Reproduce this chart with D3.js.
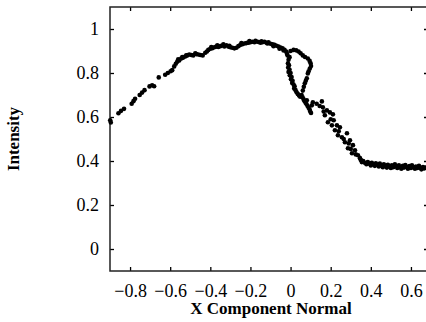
<!DOCTYPE html>
<html>
<head>
<meta charset="utf-8">
<script src="https://cdn.jsdelivr.net/npm/d3@7"></script>
<style>
  body { margin: 0; background: #fff; }
  text { font-family: 'Liberation Serif', 'Times New Roman', serif; fill: #000; }
</style>
</head>
<body>
<div id="chart"></div>
<script>
const xTicks = [-0.8, -0.6, -0.4, -0.2, 0, 0.2, 0.4, 0.6];
const yTicks = [0, 0.2, 0.4, 0.6, 0.8, 1];

// rising part up to the peak
const xRise = [-0.899, -0.896, -0.858, -0.845, -0.830, -0.792, -0.783, -0.775, -0.752, -0.740,
	-0.728, -0.703, -0.690, -0.680, -0.657, -0.625, -0.612, -0.598, -0.590, -0.580,
	-0.572, -0.565, -0.555, -0.545, -0.535, -0.525, -0.515, -0.505, -0.495, -0.485,
	-0.470, -0.460, -0.450, -0.438, -0.425, -0.417, -0.410, -0.400, -0.390, -0.380,
	-0.370, -0.360, -0.350, -0.340, -0.330, -0.320, -0.310, -0.300, -0.290, -0.280,
	-0.270, -0.260, -0.250, -0.240, -0.230, -0.220, -0.210, -0.200, -0.190, -0.180,
	-0.170, -0.160, -0.150, -0.140, -0.130, -0.120, -0.110, -0.100, -0.090, -0.080,
	-0.070, -0.060, -0.050, -0.040, -0.030, -0.022, -0.018, -0.015,
	-0.560, -0.540, -0.520, -0.475, -0.395, -0.365, -0.335, -0.305, -0.245, -0.205,
	-0.175, -0.145, -0.115, -0.085, -0.055, -0.035];
const yRise = [0.585, 0.575, 0.617, 0.628, 0.637, 0.660, 0.672, 0.683, 0.700, 0.711,
	0.722, 0.739, 0.744, 0.740, 0.780, 0.792, 0.800, 0.808, 0.813, 0.830,
	0.842, 0.851, 0.857, 0.866, 0.870, 0.875, 0.880, 0.884, 0.882, 0.880,
	0.886, 0.884, 0.882, 0.880, 0.892, 0.898, 0.905, 0.910, 0.913, 0.917,
	0.920, 0.918, 0.922, 0.925, 0.921, 0.926, 0.920, 0.917, 0.915, 0.912,
	0.915, 0.922, 0.928, 0.931, 0.934, 0.936, 0.938, 0.940, 0.942, 0.940,
	0.943, 0.941, 0.938, 0.940, 0.942, 0.937, 0.940, 0.933, 0.930, 0.928,
	0.924, 0.920, 0.916, 0.912, 0.905, 0.898, 0.888, 0.880,
	0.862, 0.872, 0.880, 0.890, 0.918, 0.926, 0.930, 0.924, 0.936, 0.945,
	0.946, 0.944, 0.934, 0.922, 0.910, 0.902];

// S-shaped part: outer branch, inner branch, then the merged descent
const xFold = [0.000, 0.015, 0.028, 0.040, 0.050, 0.061, 0.072, 0.086, 0.095, 0.100,
	0.102, 0.096, 0.090, 0.086, 0.081, 0.076, 0.071, 0.066, 0.061,
	-0.005, -0.010, -0.013, -0.008, -0.012, -0.005, -0.010, 0.000, -0.004, 0.005,
	0.002, 0.010, 0.008, 0.015, 0.020, 0.018, 0.025, 0.030, 0.036, 0.042, 0.048,
	0.055, 0.060, 0.065, 0.070, 0.075, 0.080, 0.085, 0.090, 0.095, 0.098,
	0.102, 0.106, 0.111, 0.081];
const yFold = [0.900, 0.905, 0.903, 0.898, 0.890, 0.880, 0.873, 0.866, 0.855, 0.844,
	0.832, 0.820, 0.808, 0.798, 0.776, 0.765, 0.753, 0.737, 0.720,
	0.872, 0.860, 0.844, 0.835, 0.825, 0.815, 0.805, 0.800, 0.790, 0.782,
	0.772, 0.765, 0.755, 0.748, 0.740, 0.730, 0.722, 0.712, 0.705, 0.698, 0.692,
	0.700, 0.690, 0.680, 0.672, 0.665, 0.658, 0.650, 0.642, 0.634, 0.625,
	0.618, 0.653, 0.667, 0.676];

// sparse points of the drop
const xDrop = [0.156, 0.161, 0.181, 0.196, 0.171, 0.211, 0.186, 0.206, 0.231, 0.221,
	0.246, 0.236, 0.256, 0.281, 0.271, 0.296, 0.286, 0.311, 0.321, 0.306,
	0.336, 0.346, 0.130, 0.145, 0.165, 0.200, 0.215, 0.240, 0.265, 0.290,
	0.300, 0.325];
const yDrop = [0.671, 0.644, 0.630, 0.621, 0.608, 0.612, 0.576, 0.562, 0.562, 0.540,
	0.553, 0.517, 0.508, 0.526, 0.485, 0.494, 0.458, 0.472, 0.449, 0.435,
	0.426, 0.413, 0.660, 0.650, 0.625, 0.590, 0.585, 0.535, 0.500, 0.480,
	0.455, 0.430];

// flat tail
const xTail = [0.350, 0.355, 0.362, 0.370, 0.378, 0.385, 0.392, 0.400, 0.405, 0.412,
	0.420, 0.425, 0.432, 0.440, 0.445, 0.452, 0.460, 0.465, 0.472, 0.480,
	0.485, 0.492, 0.500, 0.505, 0.512, 0.520, 0.525, 0.532, 0.540, 0.545,
	0.552, 0.560, 0.565, 0.572, 0.580, 0.585, 0.592, 0.600, 0.605, 0.612,
	0.620, 0.625, 0.632, 0.640, 0.645, 0.652, 0.660, 0.665, 0.672];
const yTail = [0.405, 0.395, 0.400, 0.392, 0.385, 0.395, 0.388, 0.380, 0.392, 0.384,
	0.378, 0.390, 0.383, 0.375, 0.388, 0.380, 0.372, 0.385, 0.378, 0.370,
	0.383, 0.375, 0.368, 0.380, 0.372, 0.385, 0.376, 0.368, 0.380, 0.372,
	0.365, 0.378, 0.370, 0.382, 0.372, 0.365, 0.377, 0.368, 0.380, 0.372,
	0.365, 0.375, 0.368, 0.378, 0.370, 0.362, 0.372, 0.366, 0.370];

const xValues = [...xRise, ...xFold, ...xDrop, ...xTail];
const yValues = [...yRise, ...yFold, ...yDrop, ...yTail];
const points = xValues.map((x, i) => ({ x: x, y: yValues[i] }));

const width = 426;
const height = 322;
const margin = { top: 7, right: -2, bottom: 51, left: 110 };
const innerW = width - margin.left - margin.right;
const innerH = height - margin.top - margin.bottom;
const serif = "'Liberation Serif', 'Times New Roman', serif";

const svg = d3
	.select('#chart')
	.append('svg')
	.attr('width', width)
	.attr('height', height);

const g = svg.append('g').attr('transform', `translate(${margin.left},${margin.top})`);

const xScale = d3.scaleLinear().domain([-0.9, 0.685]).range([0, innerW]);
const yScale = d3.scaleLinear().domain([-0.1, 1.1]).range([innerH, 0]);

const styleAxis = (sel) => {
	sel.attr('font-family', serif).attr('font-size', 18);
	sel.select('.domain').remove();
	sel.selectAll('.tick line').attr('stroke', '#000').attr('stroke-width', 1.3);
	sel.selectAll('.tick text').attr('fill', '#000');
};

// bottom axis with inward ticks
g.append('g')
	.attr('transform', `translate(0,${innerH})`)
	.call(d3.axisBottom(xScale).tickValues(xTicks).tickSize(-4).tickPadding(13).tickFormat(d3.format('')))
	.call(styleAxis);

// left axis
g.append('g')
	.call(d3.axisLeft(yScale).tickValues(yTicks).tickSize(-4).tickPadding(11).tickFormat(d3.format('')))
	.call(styleAxis);

// top and right ticks without labels
g.append('g')
	.call(d3.axisTop(xScale).tickValues(xTicks).tickSize(-4).tickFormat(''))
	.call(styleAxis);
g.append('g')
	.attr('transform', `translate(${innerW},0)`)
	.call(d3.axisRight(yScale).tickValues(yTicks).tickSize(-4).tickFormat(''))
	.call(styleAxis);

g.append('rect')
	.attr('x', 0)
	.attr('y', 0)
	.attr('width', innerW)
	.attr('height', innerH)
	.attr('fill', 'none')
	.attr('stroke', '#222')
	.attr('stroke-width', 1.5);

g.selectAll('circle.pt')
	.data(points)
	.enter()
	.append('circle')
	.attr('class', 'pt')
	.attr('cx', (d) => xScale(d.x))
	.attr('cy', (d) => yScale(d.y))
	.attr('r', 2.3)
	.attr('fill', '#000');

svg.append('text')
	.attr('x', 271)
	.attr('y', 314)
	.attr('text-anchor', 'middle')
	.attr('font-family', serif)
	.style('font-size', '17px')
	.style('font-weight', 'bold')
	.text('X Component Normal');

svg.append('text')
	.attr('transform', 'translate(19,139) rotate(-90)')
	.attr('text-anchor', 'middle')
	.attr('font-family', serif)
	.style('font-size', '17px')
	.style('font-weight', 'bold')
	.text('Intensity');
</script>
</body>
</html>
